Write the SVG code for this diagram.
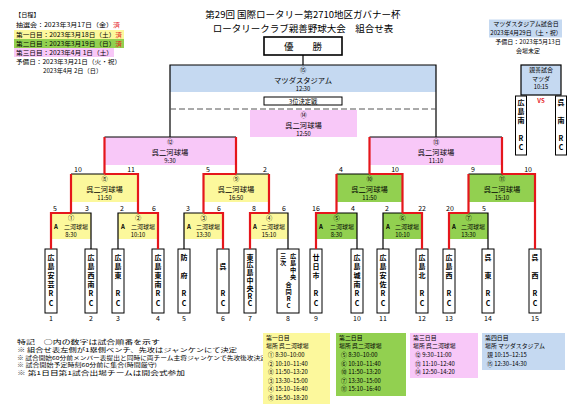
<svg xmlns="http://www.w3.org/2000/svg" width="581" height="406" viewBox="0 0 581 406">
<style>
text{font-family:"Noto Sans CJK JP","Noto Sans",sans-serif;fill:#000}
.c{text-anchor:middle}
.e{text-anchor:end}
.y{fill:#fcf89c}
.g{fill:#92d050}
.p{fill:#f8c8f8}
.b{fill:#c5d9f1}
.leaf{fill:#fff;stroke:#000;stroke-width:1}
.bk{stroke:#000;stroke-width:1.2;fill:none}
.rd{stroke:#e5161c;stroke-width:2.2;fill:none}
.vt{writing-mode:vertical-rl;text-orientation:upright;font-size:7px;font-weight:bold;letter-spacing:2.2px}
.sc{font-size:7px}
.nm{font-size:6.2px;text-anchor:middle}
.vn{font-size:7.3px;text-anchor:middle}
.tm{font-size:5.8px;text-anchor:middle}
.sm{font-size:6px}
.lg{font-size:6.2px}
.dy{font-size:5.9px}
.nt{font-size:5.4px}
</style>

<g id="header">
<text x="303" y="17.5" class="c" font-size="9.5">第29回 国際ロータリー第2710地区ガバナー杯</text>
<text x="303" y="31.5" class="c" font-size="9.5">ロータリークラブ親善野球大会　組合せ表</text>
</g>

<g id="legend">
<rect x="14" y="30" width="110" height="9" class="y"/>
<rect x="14" y="39" width="110" height="9" class="g"/>
<rect x="14" y="48" width="100" height="9" class="p"/>
<text x="15" y="17" class="lg">【日程】</text>
<text x="16" y="27" class="lg" textLength="104" lengthAdjust="spacingAndGlyphs">抽選会：2023年3月17日（金）<tspan fill="#e5161c">済</tspan></text>
<text x="16" y="36.5" class="lg" textLength="106" lengthAdjust="spacingAndGlyphs">第一日目：2023年3月18日（土）<tspan fill="#e5161c">済</tspan></text>
<text x="16" y="45.5" class="lg" textLength="106" lengthAdjust="spacingAndGlyphs">第二日目：2023年3月19日（日）<tspan fill="#e5161c">済</tspan></text>
<text x="16" y="54.5" class="lg" textLength="97" lengthAdjust="spacingAndGlyphs">第三日目：2023年4月 1日（土）</text>
<text x="16" y="64" class="lg" textLength="105" lengthAdjust="spacingAndGlyphs">予備日：2023年3月21日（火・祝）</text>
<text x="43" y="73" class="lg">2023年4月 2日（日）</text>
</g>

<g id="mazda-info">
<rect x="489" y="19.5" width="73" height="18" class="b"/>
<text x="526" y="26" class="c sm">マツダスタジアム試合日</text>
<text x="526" y="35" class="c sm">2023年4月29日（土・祝）</text>
<text x="528" y="44" class="c sm">予備日：2023年5月13日</text>
<text x="528" y="53" class="c sm">会場未定</text>
</g>

<g id="champion">
<rect x="264" y="37" width="78" height="18" fill="#fff" stroke="#000" stroke-width="1.6"/>
<text x="303" y="49.5" class="c" font-size="9.5">優　　勝</text>
</g>

<g id="game15">
<rect x="170" y="65" width="266" height="27" class="b"/>
<text x="303" y="72" class="nm">⑮</text>
<text x="303" y="82.5" class="vn">マツダスタジアム</text>
<text x="303" y="91.2" class="tm">12:30</text>
</g>

<g id="third-label">
<rect x="264" y="97" width="78" height="8" fill="#fff" stroke="#000" stroke-width="1"/>
<text x="303" y="103.6" class="c" font-size="6.3">3位決定戦</text>
</g>

<g id="game14">
<rect x="250" y="110" width="107" height="27" class="p"/>
<text x="303.5" y="117.2" class="nm">⑭</text>
<text x="303.5" y="127.5" class="vn">呉二河球場</text>
<text x="303.5" y="136.2" class="tm">12:50</text>
</g>

<g id="game12">
<rect x="104.5" y="137" width="131.5" height="28" class="p"/>
<text x="170" y="144.2" class="nm">⑫</text>
<text x="170" y="154.5" class="vn">呉二河球場</text>
<text x="170" y="163.3" class="tm">9:30</text>
</g>
<g id="game13">
<rect x="369.5" y="137" width="132.5" height="28" class="p"/>
<text x="436" y="144.2" class="nm">⑬</text>
<text x="436" y="154.5" class="vn">呉二河球場</text>
<text x="436" y="163.3" class="tm">11:10</text>
</g>

<g id="game8">
<rect x="71" y="174" width="67" height="28" class="y"/>
<text x="104.5" y="181.2" class="nm">⑧</text>
<text x="104.5" y="191.5" class="vn">呉二河球場</text>
<text x="104.5" y="200.3" class="tm">11:50</text>
<text x="74" y="172" class="sc">10</text>
<text x="135" y="172" class="sc e">11</text>
</g>
<g id="game9">
<rect x="203.5" y="174" width="65.5" height="28" class="y"/>
<text x="236" y="181.2" class="nm">⑨</text>
<text x="236" y="191.5" class="vn">呉二河球場</text>
<text x="236" y="200.3" class="tm">16:50</text>
<text x="206" y="172" class="sc">5</text>
<text x="267" y="172" class="sc e">2</text>
</g>
<g id="game10">
<rect x="336.5" y="174" width="66" height="28" class="g"/>
<text x="369.5" y="181.2" class="nm">⑩</text>
<text x="369.5" y="191.5" class="vn">呉二河球場</text>
<text x="369.5" y="200.3" class="tm">11:50</text>
<text x="339" y="172" class="sc">4</text>
<text x="399" y="172" class="sc e">10</text>
</g>
<g id="game11">
<rect x="468.5" y="174" width="66.5" height="28" class="g"/>
<text x="502" y="181.2" class="nm">⑪</text>
<text x="502" y="191.5" class="vn">呉二河球場</text>
<text x="502" y="200.3" class="tm">15:10</text>
<text x="471" y="172" class="sc">9</text>
<text x="532" y="172" class="sc e">10</text>
</g>

<g id="game1">
<rect x="51" y="213" width="40" height="26" class="y"/>
<text x="71" y="220.2" class="nm">①</text>
<text x="54" y="229" class="sm" font-weight="bold">A</text>
<text x="88" y="229" class="sm e">二河球場</text>
<text x="71" y="237.4" class="tm">8:30</text>
<text x="53" y="211" class="sc">5</text>
<text x="89" y="211" class="sc e">3</text>
</g>
<g id="game2">
<rect x="118" y="213" width="40" height="26" class="y"/>
<text x="138" y="220.2" class="nm">②</text>
<text x="121" y="229" class="sm" font-weight="bold">A</text>
<text x="155" y="229" class="sm e">二河球場</text>
<text x="138" y="237.4" class="tm">10:10</text>
<text x="120" y="211" class="sc">2</text>
<text x="156" y="211" class="sc e">6</text>
</g>
<g id="game3">
<rect x="184" y="213" width="39" height="26" class="y"/>
<text x="203.5" y="220.2" class="nm">③</text>
<text x="187" y="229" class="sm" font-weight="bold">A</text>
<text x="220" y="229" class="sm e">二河球場</text>
<text x="203.5" y="237.4" class="tm">13:30</text>
<text x="186" y="211" class="sc">3</text>
<text x="221" y="211" class="sc e">6</text>
</g>
<g id="game4">
<rect x="250" y="213" width="38" height="26" class="y"/>
<text x="269" y="220.2" class="nm">④</text>
<text x="253" y="229" class="sm" font-weight="bold">A</text>
<text x="285" y="229" class="sm e">二河球場</text>
<text x="269" y="237.4" class="tm">15:10</text>
<text x="252" y="211" class="sc">8</text>
<text x="286" y="211" class="sc e">6</text>
</g>
<g id="game5">
<rect x="316" y="213" width="41" height="26" class="g"/>
<text x="336.5" y="220.2" class="nm">⑤</text>
<text x="319" y="229" class="sm" font-weight="bold">A</text>
<text x="354" y="229" class="sm e">二河球場</text>
<text x="336.5" y="237.4" class="tm">8:30</text>
<text x="312" y="211" class="sc">16</text>
<text x="355" y="211" class="sc e">4</text>
</g>
<g id="game6">
<rect x="383" y="213" width="39" height="26" class="g"/>
<text x="402.5" y="220.2" class="nm">⑥</text>
<text x="386" y="229" class="sm" font-weight="bold">A</text>
<text x="419" y="229" class="sm e">二河球場</text>
<text x="402.5" y="237.4" class="tm">10:10</text>
<text x="385" y="211" class="sc">2</text>
<text x="426" y="211" class="sc e">22</text>
</g>
<g id="game7">
<rect x="449" y="213" width="39" height="26" class="g"/>
<text x="468.5" y="220.2" class="nm">⑦</text>
<text x="452" y="229" class="sm" font-weight="bold">A</text>
<text x="485" y="229" class="sm e">二河球場</text>
<text x="468.5" y="237.4" class="tm">13:30</text>
<text x="446" y="211" class="sc">20</text>
<text x="486" y="211" class="sc e">5</text>
</g>

<g id="exhibition">
<rect x="521" y="65" width="40" height="30" class="b" stroke="#000" stroke-width="1.2"/>
<text x="541" y="72" class="c" font-size="6">親善試合</text>
<text x="541" y="80.7" class="c" font-size="6">マツダ</text>
<text x="541" y="89.4" class="c" font-size="5.8">10:15</text>
<text x="541" y="103" class="c" font-size="6" font-weight="bold" style="fill:#e5161c">VS</text>
</g>
<g id="ex-team-a">
<rect x="515.5" y="96" width="11" height="59" class="leaf"/>
<text x="521" y="98.5" class="vt" style="letter-spacing:2px">広島南　RC</text>
</g>
<g id="ex-team-b">
<rect x="555.5" y="96" width="11" height="59" class="leaf"/>
<text x="561" y="98.5" class="vt" style="letter-spacing:2px">呉　南　RC</text>
</g>

<g id="team1"><rect x="45" y="249" width="12" height="64" class="leaf"/>
<text x="51" y="253.5" class="vt">広島安芸RC</text>
<text x="51" y="321" class="c sc">1</text></g>
<g id="team2"><rect x="85" y="249" width="12" height="64" class="leaf"/>
<text x="91" y="253.5" class="vt">広島西南RC</text>
<text x="91" y="321" class="c sc">2</text></g>
<g id="team3"><rect x="112" y="249" width="12" height="64" class="leaf"/>
<text x="118" y="253.5" class="vt">広島東　RC</text>
<text x="118" y="321" class="c sc">3</text></g>
<g id="team4"><rect x="152" y="249" width="12" height="64" class="leaf"/>
<text x="158" y="253.5" class="vt">広島東南RC</text>
<text x="158" y="321" class="c sc">4</text></g>
<g id="team5"><rect x="178" y="249" width="12" height="64" class="leaf"/>
<text x="184" y="253.5" class="vt">防　府　RC</text>
<text x="184" y="321" class="c sc">5</text></g>
<g id="team6"><rect x="217" y="249" width="12" height="64" class="leaf"/>
<text x="223" y="253.5" class="vt">　呉　　RC</text>
<text x="223" y="321" class="c sc">6</text></g>
<g id="team7"><rect x="244" y="249" width="12" height="64" class="leaf"/>
<text x="250" y="253.5" class="vt" style="letter-spacing:0.8px">東広島中央RC</text>
<text x="250" y="321" class="c sc">7</text></g>
<g id="team8"><rect x="277" y="249" width="22" height="64" class="leaf"/>
<text x="293" y="253" class="vt" style="font-size:6.2px;letter-spacing:0.6px">広島中央</text>
<text x="283" y="253" class="vt" style="font-size:6.2px;letter-spacing:0.6px">三次</text>
<text x="288.5" y="282" class="vt" style="font-size:6.2px;letter-spacing:0.6px">合同RC</text>
<text x="288" y="321" class="c sc">8</text></g>
<g id="team9"><rect x="310" y="249" width="12" height="64" class="leaf"/>
<text x="316" y="253.5" class="vt">廿日市　RC</text>
<text x="316" y="321" class="c sc">9</text></g>
<g id="team10"><rect x="351" y="249" width="12" height="64" class="leaf"/>
<text x="357" y="253.5" class="vt">広島城南RC</text>
<text x="357" y="321" class="c sc">10</text></g>
<g id="team11"><rect x="377" y="249" width="12" height="64" class="leaf"/>
<text x="383" y="253.5" class="vt">広島安佐RC</text>
<text x="383" y="321" class="c sc">11</text></g>
<g id="team12"><rect x="416" y="249" width="12" height="64" class="leaf"/>
<text x="422" y="253.5" class="vt">広島北　RC</text>
<text x="422" y="321" class="c sc">12</text></g>
<g id="team13"><rect x="443" y="249" width="12" height="64" class="leaf"/>
<text x="449" y="253.5" class="vt">広島西　RC</text>
<text x="449" y="321" class="c sc">13</text></g>
<g id="team14"><rect x="482" y="249" width="12" height="64" class="leaf"/>
<text x="488" y="253.5" class="vt">呉　東　RC</text>
<text x="488" y="321" class="c sc">14</text></g>
<g id="team15"><rect x="529" y="249" width="12" height="64" class="leaf"/>
<text x="535" y="253.5" class="vt">呉　西　RC</text>
<text x="535" y="321" class="c sc">15</text></g>

<g id="connectors">
<path class="bk" d="M303 55V65"/>
<path class="bk" d="M170 137V65H436V137"/>
<path d="M170 109H436" stroke="#555" stroke-width="1" stroke-dasharray="6 3"/>
<path class="bk" d="M104.5 137H236M369.5 137H502"/>
<path class="bk" d="M71 174H104.5M236 174H269M336.5 174H369.5M468.5 174H502"/>
<path class="bk" d="M71 213H91V249M118 249V213H138M184 249V213H203.5M269 213H288V249M336.5 213H357V249M383 249V213H402.5M468.5 213H488V249"/>
<path class="rd" d="M104.5 174V137M236 174V137M369.5 174V137M502 174V137"/>
<path class="rd" d="M71 213V174M104.5 174H138V213M203.5 213V174H236M269 174V213M336.5 213V174M369.5 174H402.5V213M468.5 213V174M502 174H535V249"/>
<path class="rd" d="M51 249V213H71M138 213H158V249M203.5 213H223V249M250 249V213H269M316 249V213H336.5M402.5 213H422V249M449 249V213H468.5"/>
</g>

<g id="notes">
<text x="17" y="344" class="nt" textLength="143" lengthAdjust="spacingAndGlyphs">特記　○内の数字は試合順番を示す</text>
<text x="17" y="351.8" class="nt" textLength="220" lengthAdjust="spacingAndGlyphs">※ 組合せ表左側が1塁側ベンチ、先攻はジャンケンにて決定</text>
<text x="17" y="359.6" class="nt" textLength="250" lengthAdjust="spacingAndGlyphs">※ 試合開始60分前メンバー表提出と同時に両チーム主将ジャンケンで先攻後攻決定</text>
<text x="17" y="367.4" class="nt" textLength="140" lengthAdjust="spacingAndGlyphs">※ 試合開始予定時刻60分前に集合(時間厳守)</text>
<text x="17" y="375.2" class="nt" textLength="168" lengthAdjust="spacingAndGlyphs">※ 第1日目第1試合出場チームは開会式参加</text>
</g>

<g id="day1">
<rect x="263" y="333" width="67" height="71" class="y"/>
<text x="266" y="339.8" class="dy">第一日目</text>
<text x="266" y="348.4" class="dy">場所 呉二河球場</text>
<text x="268" y="357" class="dy">①  8:30–10:00</text>
<text x="268" y="365.6" class="dy">② 10:10–11:40</text>
<text x="268" y="374.2" class="dy">⑧ 11:50–13:20</text>
<text x="268" y="382.8" class="dy">③ 13:30–15:00</text>
<text x="268" y="391.4" class="dy">④ 15:10–16:40</text>
<text x="268" y="400" class="dy">⑨ 16:50–18:20</text>
</g>
<g id="day2">
<rect x="336" y="333" width="70" height="63" class="g"/>
<text x="339" y="339.8" class="dy">第二日目</text>
<text x="339" y="348.4" class="dy">場所 呉二河球場</text>
<text x="341" y="357" class="dy">⑤  8:30–10:00</text>
<text x="341" y="365.6" class="dy">⑥ 10:10–11:40</text>
<text x="341" y="374.2" class="dy">⑩ 11:50–13:20</text>
<text x="341" y="382.8" class="dy">⑦ 13:30–15:00</text>
<text x="341" y="391.4" class="dy">⑪ 15:10–16:40</text>
</g>
<g id="day3">
<rect x="410" y="333" width="68" height="45" class="p"/>
<text x="413" y="339.8" class="dy">第三日目</text>
<text x="413" y="348.4" class="dy">場所 呉二河球場</text>
<text x="415" y="357" class="dy">⑫  9:30–11:00</text>
<text x="415" y="365.6" class="dy">⑬ 11:10–12:40</text>
<text x="415" y="374.2" class="dy">⑭ 12:50–14:20</text>
</g>
<g id="day4">
<rect x="482" y="333" width="83" height="37" class="b"/>
<text x="485" y="339.8" class="dy">第四日目</text>
<text x="485" y="348.4" class="dy">場所 マツダスタジアム</text>
<text x="487" y="357" class="dy">親 10:15–12:15</text>
<text x="487" y="365.6" class="dy">⑮ 12:30–14:30</text>
</g>
</svg>
